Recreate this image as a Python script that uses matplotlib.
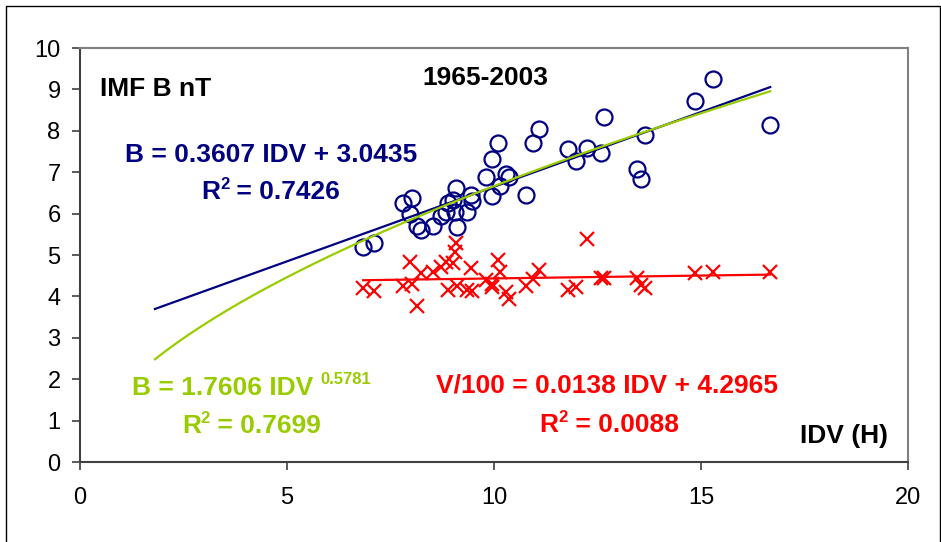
import matplotlib.pyplot as plt
import numpy as np

plt.rcParams['font.family'] = ['Liberation Sans', 'DejaVu Sans']

# IDV (H) values, shared by both series
idv = [6.84, 7.11, 7.81, 7.97, 8.01, 8.15, 8.24, 8.53, 8.72, 8.84,
       8.90, 9.02, 9.06, 9.08, 9.10, 9.34, 9.44, 9.48, 9.80, 9.94,
       9.96, 10.10, 10.14, 10.28, 10.35, 10.77, 10.93, 11.09, 11.78, 11.98,
       12.24, 12.58, 12.66, 13.45, 13.55, 13.65, 14.86, 15.28, 16.67]
# IMF B (nT)
imf_b = [5.20, 5.28, 6.26, 5.99, 6.37, 5.71, 5.60, 5.71, 5.95, 6.05,
         6.25, 6.33, 6.05, 6.63, 5.68, 6.05, 6.45, 6.30, 6.89, 7.31,
         6.43, 7.70, 6.67, 6.96, 6.89, 6.45, 7.71, 8.04, 7.55, 7.28,
         7.58, 7.47, 8.34, 7.07, 6.83, 7.90, 8.73, 9.25, 8.14]
# V/100
v100 = [4.21, 4.13, 4.25, 4.84, 4.30, 3.78, 4.56, 4.60, 4.72, 4.84,
        4.15, 4.80, 5.08, 5.30, 4.25, 4.15, 4.68, 4.12, 4.40, 4.30,
        4.22, 4.88, 4.60, 4.11, 3.93, 4.25, 4.42, 4.65, 4.15, 4.23,
        5.38, 4.44, 4.44, 4.44, 4.28, 4.21, 4.56, 4.58, 4.60]

# trend line coefficients shown on the chart
lin_b = (0.3607, 3.0435)
pow_b = (1.7606, 0.5781)
lin_v = (0.0138, 4.2965)

navy = '#000080'
green = '#99CC00'
red = '#FF0000'

fig = plt.figure(figsize=(9.41, 5.42), dpi=100)
ax = fig.add_axes([0.085, 0.1476, 0.880, 0.7638])

ax.plot(idv, imf_b, 'o', mfc='none', mec=navy, mew=1.6, ms=11.5, zorder=3)
ax.plot(idv, v100, 'x', color=red, mew=1.6, ms=10, zorder=3)

xt = np.linspace(1.81, 16.67, 200)
ax.plot(xt, lin_b[0] * xt + lin_b[1], color=navy, lw=1.6, zorder=4)
ax.plot(xt, pow_b[0] * xt ** pow_b[1], color=green, lw=1.6, zorder=4)
xv = np.array([min(idv), max(idv)])
ax.plot(xv, lin_v[0] * xv + lin_v[1], color=red, lw=1.6, zorder=4)

ax.set_xlim(0, 20)
ax.set_ylim(0, 10)
ax.set_xticks([0, 5, 10, 15, 20])
ax.set_yticks(range(0, 11))
ax.tick_params(direction='out', length=6, width=1.2, labelsize=17, color='#404040')
ax.tick_params(axis='x', pad=12)
ax.tick_params(axis='y', pad=8)
for s in ['top', 'right']:
    ax.spines[s].set_color('#808080')
    ax.spines[s].set_linewidth(1.5)
for s in ['left', 'bottom']:
    ax.spines[s].set_color('#404040')
    ax.spines[s].set_linewidth(1.5)

FS = 19
SUP = 12
renderer = fig.canvas.get_renderer()


def rich(x, y, parts, color, ha='left'):
    # parts: (text, size, raise in points), drawn left to right from a baseline point
    widths = []
    for s, size, _ in parts:
        t = ax.text(0, 0, s, fontsize=size, fontweight='bold')
        widths.append(t.get_window_extent(renderer).width * 72 / fig.dpi)
        t.remove()
    total = sum(widths)
    dx = -total / 2 if ha == 'center' else (-total if ha == 'right' else 0)
    for (s, size, rise), w in zip(parts, widths):
        ax.annotate(s, xy=(x, y), xytext=(dx, rise), textcoords='offset points',
                    fontsize=size, fontweight='bold', color=color,
                    ha='left', va='baseline')
        dx += w


rich(0.48, 8.84, [('IMF B nT', FS, 0)], 'black')
rich(9.78, 9.11, [('1965-2003', FS, 0)], 'black', ha='center')
rich(1.09, 7.25, [('B = 0.3607 IDV + 3.0435', FS, 0)], navy)
rich(2.92, 6.35, [('R', FS, 0), ('2', SUP, 7.5), (' = 0.7426', FS, 0)], navy)
rich(1.26, 1.62, [('B = 1.7606 IDV ', FS, 0), ('0.5781', SUP, 8)], green)
rich(2.46, 0.70, [('R', FS, 0), ('2', SUP, 7.5), (' = 0.7699', FS, 0)], green)
rich(12.74, 1.67, [('V/100 = 0.0138 IDV + 4.2965', FS, 0)], red, ha='center')
rich(12.78, 0.72, [('R', FS, 0), ('2', SUP, 7.5), (' = 0.0088', FS, 0)], red, ha='center')
rich(19.52, 0.46, [('IDV (H)', FS, 0)], 'black', ha='right')

# outer chart border
fig.add_artist(plt.Line2D([0.006, 0.006, 0.999, 0.999], [0.0, 0.989, 0.989, 0.0],
                          transform=fig.transFigure, color='black', lw=1))

fig.savefig('out.png', dpi=100)
